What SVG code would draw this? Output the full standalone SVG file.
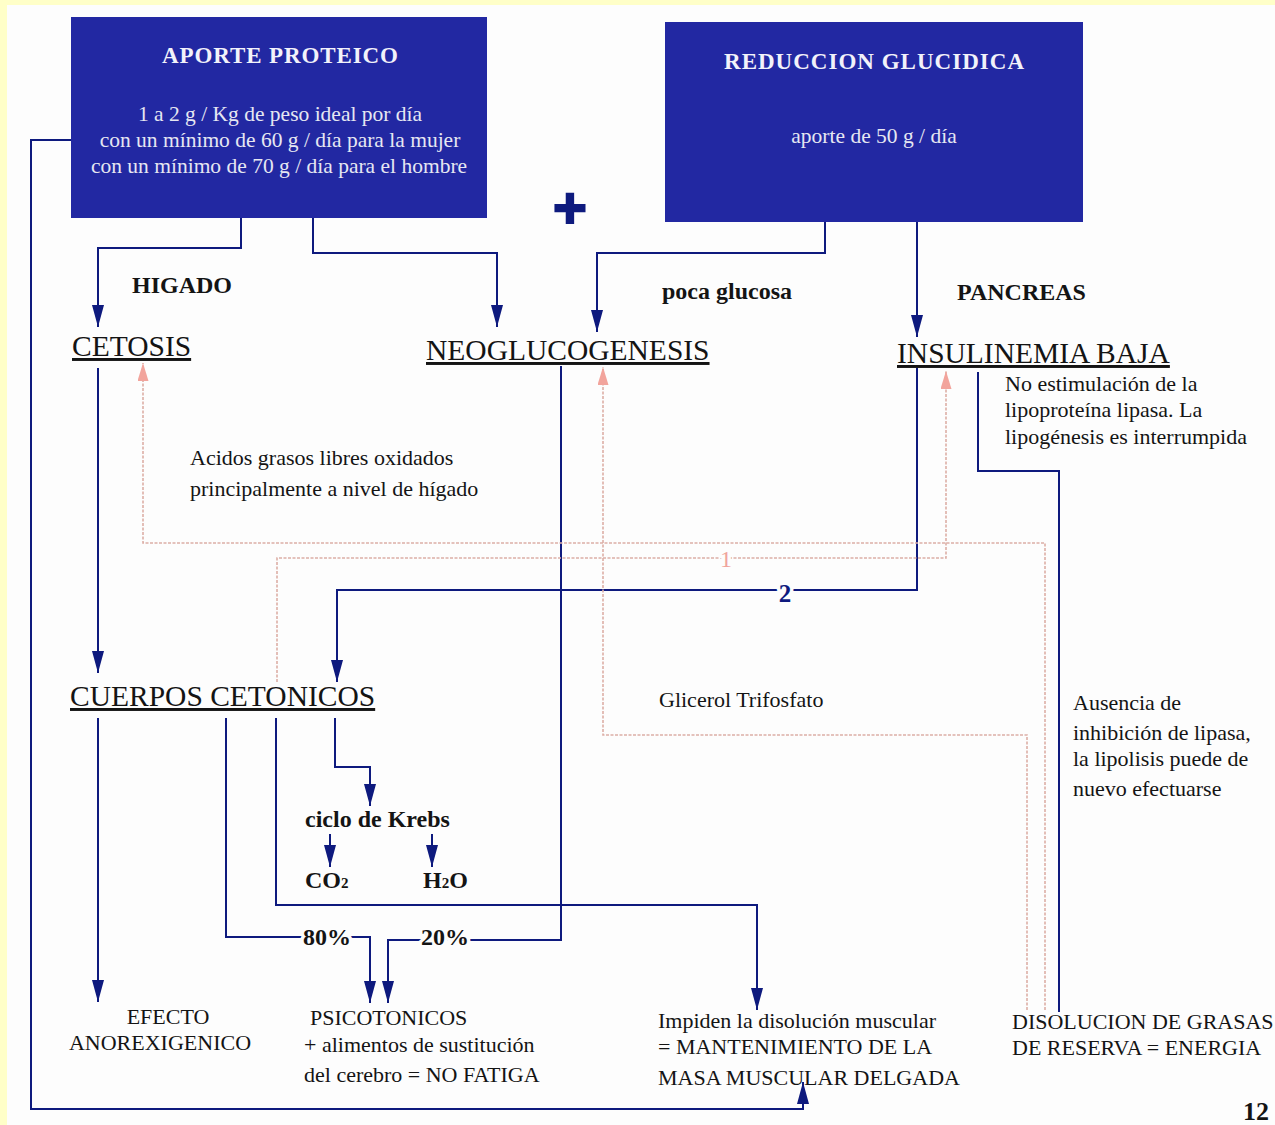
<svg xmlns="http://www.w3.org/2000/svg" width="1275" height="1125" viewBox="0 0 1275 1125">
<defs>
<style>
text{font-family:"Liberation Serif","Times New Roman",serif;fill:#141414}
.box{fill:#2228a2}
.bt{fill:#e6e7f2;font-size:21.5px}
.bh{fill:#f2f2fa;font-size:23px;font-weight:bold}
.big{font-size:29.5px;text-decoration:underline}
.lbl{font-size:24px;font-weight:bold}
.body{font-size:22px}
.nav{fill:none;stroke:#0e1a7e;stroke-width:2}
.pink{fill:none;stroke:#dcaea6;stroke-width:1.6;stroke-dasharray:3 1.5}
.halo{paint-order:stroke;stroke:#fdfdfd;stroke-width:7px;stroke-linejoin:round}
</style>
<marker id="an" markerUnits="userSpaceOnUse" viewBox="0 0 22 12" refX="22" refY="6" markerWidth="22" markerHeight="12" orient="auto">
<path d="M0,0 L22,6 L0,12 z" fill="#0e1a7e"/>
</marker>
<marker id="ap" markerUnits="userSpaceOnUse" viewBox="0 0 18 11" refX="18" refY="5.5" markerWidth="18" markerHeight="11" orient="auto">
<path d="M0,0 L18,5.5 L0,11 z" fill="#f2a49c"/>
</marker>
</defs>
<rect x="0" y="0" width="1275" height="1125" fill="#ffffc8"/>
<rect x="7" y="5" width="1268" height="1120" fill="#fdfdfd"/>

<g id="connectors">
<path class="nav" d="M241,218 V248 H98 V327" marker-end="url(#an)"/>
<path class="nav" d="M313,218 V253 H497 V327" marker-end="url(#an)"/>
<path class="nav" d="M825,222 V253 H597 V332" marker-end="url(#an)"/>
<path class="nav" d="M917,222 V337" marker-end="url(#an)"/>
<path class="nav" d="M71,140 H31 V1109 H803 V1082" marker-end="url(#an)"/>
<path class="nav" d="M98,368 V673" marker-end="url(#an)"/>
<path class="nav" d="M917,368 V590 H337 V682" marker-end="url(#an)"/>
<path class="nav" d="M978,372 V471 H1059 V1012"/>
<path class="nav" d="M98,718 V1002" marker-end="url(#an)"/>
<path class="nav" d="M226,718 V937 H370 V1003" marker-end="url(#an)"/>
<path class="nav" d="M561,366 V940 H388 V1003" marker-end="url(#an)"/>
<path class="nav" d="M276,718 V905 H757 V1010" marker-end="url(#an)"/>
<path class="nav" d="M335,718 V767 H370 V806" marker-end="url(#an)"/>
<path class="nav" d="M330,834 V867" marker-end="url(#an)"/>
<path class="nav" d="M432,834 V867" marker-end="url(#an)"/>
<path class="pink" d="M1045,1010 V543 H143 V363" marker-end="url(#ap)"/>
<path class="pink" d="M277,682 V558 H946 V371" marker-end="url(#ap)"/>
<path class="pink" d="M1027,1010 V735 H603 V367" marker-end="url(#ap)"/>
<text x="726" y="567" text-anchor="middle" class="halo" style="font-size:24px;fill:#f0a49c">1</text>
<text x="785" y="602" text-anchor="middle" class="halo" style="font-size:25px;font-weight:bold;fill:#0e1a7e">2</text>
<text x="327" y="945" text-anchor="middle" class="lbl halo">80%</text>
<text x="445" y="945" text-anchor="middle" class="lbl halo">20%</text>
</g>

<g id="aporte-proteico">
<rect class="box" x="71" y="17" width="416" height="201"/>
<text class="bh" x="280" y="63" text-anchor="middle" textLength="236">APORTE PROTEICO</text>
<text class="bt" x="280" y="121" text-anchor="middle">1 a 2 g / Kg de peso ideal por día</text>
<text class="bt" x="280" y="147" text-anchor="middle">con un mínimo de 60 g / día para la mujer</text>
<text class="bt" x="279" y="173" text-anchor="middle">con un mínimo de 70 g / día para el hombre</text>
</g>

<g id="reduccion-glucidica">
<rect class="box" x="665" y="22" width="418" height="200"/>
<text class="bh" x="874" y="69" text-anchor="middle" textLength="300">REDUCCION GLUCIDICA</text>
<text class="bt" x="874" y="143" text-anchor="middle">aporte de 50 g / día</text>
</g>

<g id="plus"><text x="570" y="228" text-anchor="middle" style="font-family:'Liberation Sans',Arial,sans-serif;font-size:58px;font-weight:bold;fill:#0e1a7e;stroke:#0e1a7e;stroke-width:2">+</text></g>

<g id="higado"><text class="lbl" x="132" y="293">HIGADO</text></g>
<g id="poca-glucosa"><text class="lbl" x="662" y="299">poca glucosa</text></g>
<g id="pancreas"><text class="lbl" x="957" y="300">PANCREAS</text></g>

<g id="cetosis"><text class="big" x="72" y="356">CETOSIS</text></g>
<g id="neoglucogenesis"><text class="big" x="426" y="360">NEOGLUCOGENESIS</text></g>
<g id="insulinemia-baja"><text class="big" x="897" y="363">INSULINEMIA BAJA</text></g>

<g id="no-estimulacion">
<text class="body" x="1005" y="391">No estimulación de la</text>
<text class="body" x="1005" y="417">lipoproteína lipasa. La</text>
<text class="body" x="1005" y="444">lipogénesis es interrumpida</text>
</g>

<g id="acidos-grasos">
<text class="body" x="190" y="465">Acidos grasos libres oxidados</text>
<text class="body" x="190" y="496">principalmente a nivel de hígado</text>
</g>

<g id="cuerpos-cetonicos"><text class="big" x="70" y="706">CUERPOS CETONICOS</text></g>

<g id="glicerol"><text class="body" x="659" y="707">Glicerol Trifosfato</text></g>

<g id="ausencia">
<text class="body" x="1073" y="710">Ausencia de</text>
<text class="body" x="1073" y="740">inhibición de lipasa,</text>
<text class="body" x="1073" y="766">la lipolisis puede de</text>
<text class="body" x="1073" y="796">nuevo efectuarse</text>
</g>

<g id="ciclo-krebs"><text class="lbl" x="305" y="827">ciclo de Krebs</text></g>
<g id="co2"><text class="lbl" x="305" y="888">CO<tspan style="font-size:15px">2</tspan></text></g>
<g id="h2o"><text class="lbl" x="423" y="888">H<tspan style="font-size:15px">2</tspan>O</text></g>

<g id="efecto-anorexigenico">
<text class="body" x="168" y="1024" text-anchor="middle">EFECTO</text>
<text class="body" x="160" y="1050" text-anchor="middle">ANOREXIGENICO</text>
</g>

<g id="psicotonicos">
<text class="body" x="310" y="1025">PSICOTONICOS</text>
<text class="body" x="304" y="1052">+ alimentos de sustitución</text>
<text class="body" x="304" y="1082">del cerebro = NO FATIGA</text>
</g>

<g id="impiden">
<text class="body" x="658" y="1028">Impiden la disolución muscular</text>
<text class="body" x="658" y="1054">= MANTENIMIENTO DE LA</text>
<text class="body" x="658" y="1085">MASA MUSCULAR DELGADA</text>
</g>

<g id="disolucion-grasas">
<text class="body" x="1012" y="1029">DISOLUCION DE GRASAS</text>
<text class="body" x="1012" y="1055">DE RESERVA = ENERGIA</text>
</g>

<g id="page-number"><text x="1243" y="1120" style="font-size:26px;font-weight:bold">12</text></g>
</svg>
